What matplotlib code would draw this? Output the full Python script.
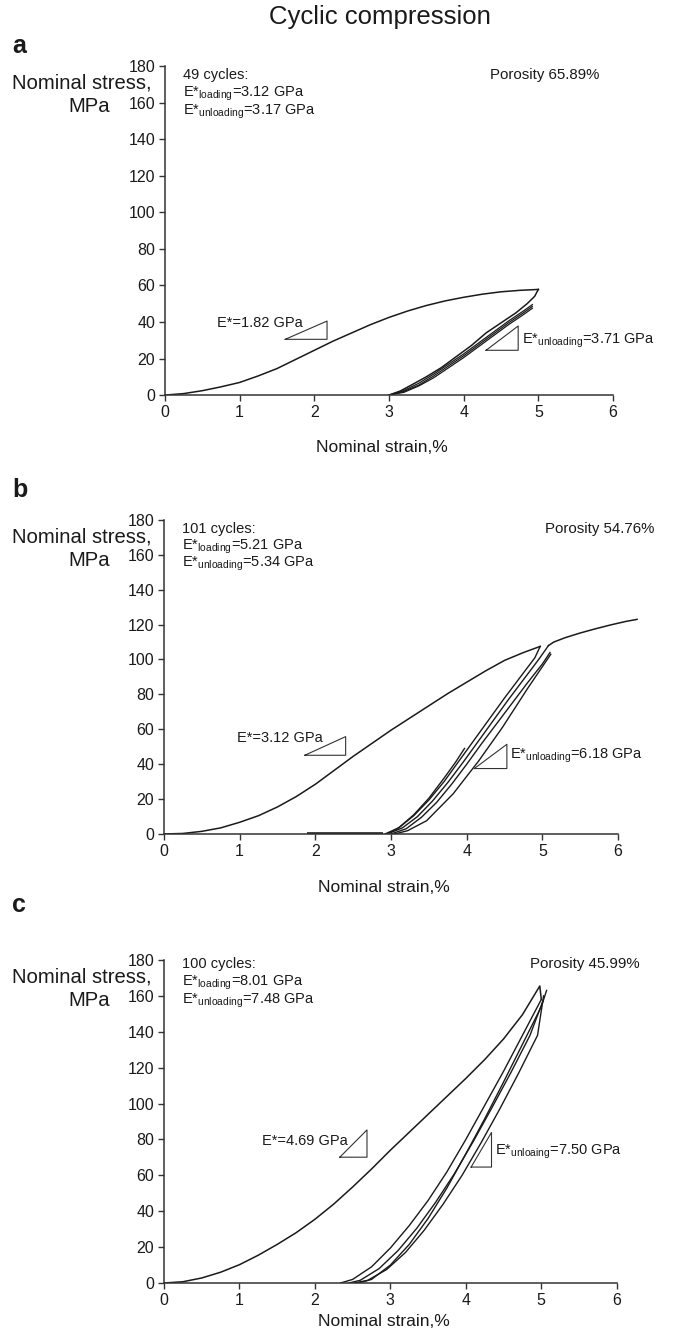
import matplotlib
matplotlib.use("Agg")
import matplotlib.pyplot as plt

plt.rcParams['font.family'] = ['Liberation Sans', 'DejaVu Sans']
plt.rcParams['mathtext.fontset'] = 'custom'
plt.rcParams['mathtext.rm'] = 'Liberation Sans'
plt.rcParams['mathtext.it'] = 'Liberation Sans:italic'
plt.rcParams['mathtext.bf'] = 'Liberation Sans:bold'

# ---------------- data ----------------
x_ticks = [0, 1, 2, 3, 4, 5, 6]
y_ticks = [0, 20, 40, 60, 80, 100, 120, 140, 160, 180]

# Panel a
a_load_x = [0, 0.25, 0.5, 0.75, 1.0, 1.25, 1.5, 1.75, 2.0, 2.25, 2.5, 2.75, 3.0,
            3.25, 3.5, 3.75, 4.0, 4.25, 4.5, 4.75, 5.0]
a_load_y = [0, 0.8, 2.4, 4.5, 6.9, 10.5, 14.5, 19.5, 24.5, 29.5, 34, 38.5, 42.5,
            46, 49, 51.5, 53.5, 55.2, 56.5, 57.3, 57.8]
a_unl_x = [5.0, 4.95, 4.85, 4.7, 4.5, 4.3, 4.1, 3.9, 3.7, 3.5, 3.3, 3.15, 3.0]
a_unl_y = [57.8, 54, 50, 45, 39.5, 34, 27, 21, 15, 10, 5.5, 2.2, 0]
a_cyc_x = [3.0, 3.2, 3.4, 3.6, 3.8, 4.0, 4.2, 4.4, 4.6, 4.8, 4.92]
a_cyc1_y = [0, 2.5, 6.5, 11.5, 17, 22.5, 28.5, 34.5, 40.5, 46, 49.5]
a_cyc2_y = [0, 2.0, 5.5, 10.5, 16, 21.5, 27.5, 33.5, 39.5, 45, 48.5]
a_cyc3_y = [0, 1.5, 5.0, 9.5, 15, 20.5, 26.5, 32.5, 38.5, 44, 47.5]

# Panel b
b_load_x = [0, 0.25, 0.5, 0.75, 1.0, 1.25, 1.5, 1.75, 2.0, 2.25, 2.5, 2.75, 3.0,
            3.25, 3.5, 3.75, 4.0, 4.25, 4.5, 4.75, 4.97]
b_load_y = [0, 0.3, 1.5, 3.5, 6.7, 10.5, 15.5, 21.5, 28.5, 36.5, 44.5, 52, 59.5,
            66.5, 73.5, 80.5, 87, 93.5, 99.5, 104, 107.5]
b_final_x = [5.08, 5.15, 5.3, 5.5, 5.7, 5.9, 6.1, 6.25]
b_final_y = [108, 110, 112.5, 115.2, 117.6, 119.8, 121.8, 123]
b_flat_x = [1.89, 2.9]
b_flat_y = [0, 0]
b_c1_x = [2.92, 3.1, 3.3, 3.5, 3.7, 3.9, 4.1, 4.3, 4.5, 4.7, 4.9, 4.97]
b_c1_y = [0, 3.5, 10.5, 19.5, 30, 42, 54, 66, 78, 89.5, 101, 107.5]
b_c2_x = [2.95, 3.15, 3.35, 3.55, 3.75, 3.95, 4.15, 4.35, 4.55, 4.75, 4.95, 5.08]
b_c2_y = [0, 3.5, 10, 19, 29.5, 41, 53, 65, 77, 88.5, 100, 108]
b_c3_x = [3.0, 3.2, 3.4, 3.6, 3.8, 4.0, 4.2, 4.4, 4.6, 4.8, 5.0, 5.1]
b_c3_y = [0, 3, 9.5, 18, 28.5, 40, 52, 63.5, 75, 86.5, 97.5, 104]
b_c4_x = [3.05, 3.22, 3.47, 3.82, 4.16, 4.47, 4.81, 5.11]
b_c4_y = [0, 1.9, 7.6, 23, 42, 61, 83.8, 103]
b_c5_x = [2.95, 3.1, 3.3, 3.5, 3.7, 3.85, 3.97]
b_c5_y = [0, 3.5, 11, 20.5, 32, 41, 49]

# Panel c
c_load_x = [0, 0.25, 0.5, 0.75, 1.0, 1.25, 1.5, 1.75, 2.0, 2.25, 2.5, 2.75, 3.0,
            3.25, 3.5, 3.75, 4.0, 4.25, 4.5, 4.75, 4.98, 5.0]
c_load_y = [0, 0.7, 2.8, 6, 10.2, 15.5, 21.5, 28, 35.5, 44, 53.5, 63.5, 74,
            84, 94, 104, 114, 124.5, 136, 149.5, 165.5, 158]
c_c1_x = [2.34, 2.5, 2.75, 3.0, 3.25, 3.5, 3.75, 4.0, 4.25, 4.5, 4.75, 5.0]
c_c1_y = [0, 2, 9, 19.5, 32, 46, 62, 80, 99, 118, 138, 158]
c_c2_x = [2.45, 2.6, 2.85, 3.1, 3.35, 3.6, 3.85, 4.1, 4.35, 4.6, 4.85, 5.02]
c_c2_y = [0, 1.5, 8, 18, 30.5, 45, 61, 79, 98, 117.5, 138, 157]
c_c3_x = [2.52, 2.7, 2.95, 3.2, 3.45, 3.7, 3.95, 4.2, 4.45, 4.7, 4.95, 5.03]
c_c3_y = [0, 1.5, 7.5, 17, 29.5, 44, 60, 78, 97, 117, 138, 160]
c_c4_x = [2.58, 2.75, 3.0, 3.25, 3.5, 3.75, 4.0, 4.25, 4.5, 4.75, 5.0, 5.07]
c_c4_y = [0, 2, 10, 21.5, 36, 53, 72, 91.5, 112, 133, 154, 163]

# annotation texts
a_head = ["49 cycles:", r"E*$_{\mathrm{loading}}$=3.12 GPa", r"E*$_{\mathrm{unloading}}$=3.17 GPa"]
b_head = ["101 cycles:", r"E*$_{\mathrm{loading}}$=5.21 GPa", r"E*$_{\mathrm{unloading}}$=5.34 GPa"]
c_head = ["100 cycles:", r"E*$_{\mathrm{loading}}$=8.01 GPa", r"E*$_{\mathrm{unloading}}$=7.48 GPa"]
porosity = ["Porosity 65.89%", "Porosity 54.76%", "Porosity 45.99%"]

# slope triangles (data coords): (x0, y0, x1, y1) -> right-angle at (x1, y0)
a_tri = [(1.61, 30.5, 2.17, 40.5), (4.30, 24.5, 4.73, 37.8)]
b_tri = [(1.86, 45.1, 2.40, 55.8), (4.10, 37.5, 4.53, 51.4)]
c_tri = [(2.33, 70.1, 2.69, 85.3), (4.07, 64.6, 4.34, 83.9)]
a_tri_txt = [(0.70, 39.5, "E*=1.82 GPa", 'left'),
             (4.78, 29.5, r"E*$_{\mathrm{unloading}}$=3.71 GPa", 'left')]
b_tri_txt = [(0.97, 55.0, "E*=3.12 GPa", 'left'),
             (4.57, 44.5, r"E*$_{\mathrm{unloading}}$=6.18 GPa", 'left')]
c_tri_txt = [(2.43, 79.0, "E*=4.69 GPa", 'right'),
             (4.39, 73.0, r"E*$_{\mathrm{unloaing}}$=7.50 GPa", 'left')]

# ---------------- figure ----------------
W, H = 685, 1341
fig = plt.figure(figsize=(W / 100, H / 100), dpi=100)
ink = '#1a1a1a'

positions = [[0.2409, 0.7054, 0.654, 0.2453],
             [0.2394, 0.3781, 0.663, 0.2342],
             [0.2394, 0.04325, 0.661, 0.2409]]
letters = ['a', 'b', 'c']
letter_y = [0.966, 0.6346, 0.325]
head_y = [[0.973, 0.915, 0.860], [0.971, 0.914, 0.860], [0.988, 0.929, 0.873]]
por_x = [0.725, 0.839, 0.808]
# y-label pixel positions (from top): "Nominal stress," and "MPa"
ylab_px = [(83, 107), (537, 561), (977, 1001)]
xlab_y = [-0.158, -0.169, -0.118]

heads = [a_head, b_head, c_head]
tris = [a_tri, b_tri, c_tri]
tri_txts = [a_tri_txt, b_tri_txt, c_tri_txt]

axes = []
for i, pos in enumerate(positions):
    ax = fig.add_axes(pos)
    axes.append(ax)
    ax.set_xlim(0, 6)
    ax.set_ylim(0, 180)
    ax.set_xticks(x_ticks)
    ax.set_yticks(y_ticks)
    for s in ['top', 'right']:
        ax.spines[s].set_visible(False)
    for s in ['left', 'bottom']:
        ax.spines[s].set_color('#333333')
        ax.spines[s].set_linewidth(1.1)
    ax.tick_params(direction='out', length=4, width=1.0, color='#333333',
                   labelsize=11.5, labelcolor=ink, pad=3)
    ax.patch.set_alpha(0)
    # heading
    for k, t in enumerate(heads[i]):
        ax.text(0.040, head_y[i][k], t, transform=ax.transAxes, fontsize=10.5,
                ha='left', va='center', color=ink)
    ax.text(por_x[i], head_y[i][0], porosity[i], transform=ax.transAxes,
            fontsize=10.8, ha='left', va='center', color=ink)
    y1, y2 = ylab_px[i]
    fig.text(152 / W, 1 - y1 / H, "Nominal stress,", fontsize=14.6,
             ha='right', va='center', color=ink)
    fig.text(110 / W, 1 - y2 / H, "MPa", fontsize=14.6,
             ha='right', va='center', color=ink)
    ax.text(0.485, xlab_y[i], "Nominal strain,%", transform=ax.transAxes,
            fontsize=12.5, ha='center', va='center', color=ink)
    fig.text(0.018, letter_y[i], letters[i], fontsize=18, fontweight='bold',
             ha='left', va='center', color=ink)
    # triangles
    for (x0, y0, x1, y1_) in tris[i]:
        ax.plot([x0, x1, x1, x0], [y0, y0, y1_, y0], color='#333333', lw=0.8,
                clip_on=False)
    for (tx, ty, tt, ha) in tri_txts[i]:
        ax.text(tx, ty, tt, fontsize=10.5, ha=ha, va='center', color=ink)

lw = 1.1
ax = axes[0]
ax.plot(a_load_x, a_load_y, color=ink, lw=lw)
ax.plot(a_unl_x, a_unl_y, color=ink, lw=lw)
for yy in (a_cyc1_y, a_cyc2_y, a_cyc3_y):
    ax.plot(a_cyc_x, yy, color=ink, lw=0.9)

ax = axes[1]
ax.plot(b_load_x, b_load_y, color=ink, lw=lw)
ax.plot(b_final_x, b_final_y, color=ink, lw=lw, clip_on=False)
ax.plot(b_flat_x, b_flat_y, color=ink, lw=2.6, solid_capstyle='butt')
for xx, yy in ((b_c1_x, b_c1_y), (b_c2_x, b_c2_y), (b_c3_x, b_c3_y),
               (b_c4_x, b_c4_y), (b_c5_x, b_c5_y)):
    ax.plot(xx, yy, color=ink, lw=1.0)

ax = axes[2]
ax.plot(c_load_x, c_load_y, color=ink, lw=lw)
for xx, yy in ((c_c1_x, c_c1_y), (c_c2_x, c_c2_y), (c_c3_x, c_c3_y),
               (c_c4_x, c_c4_y)):
    ax.plot(xx, yy, color=ink, lw=1.0)

fig.text(0.555, 0.987, "Cyclic compression", fontsize=18.5, ha='center',
         va='center', color=ink)

fig.savefig("out.png", dpi=100)
